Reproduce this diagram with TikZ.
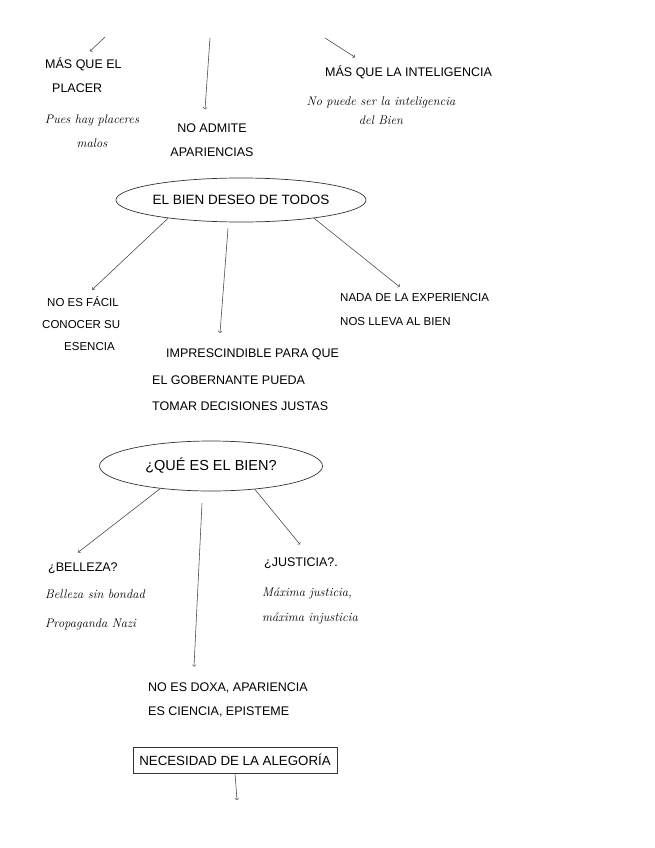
\documentclass[tikz,border=0pt]{standalone}
\usepackage{fontspec}
\setmainfont{Liberation Sans}
\usetikzlibrary{shapes.geometric,calc}
\begin{document}
\begin{tikzpicture}[x=1pt,y=-1pt,
	caps/.style={font=\fontsize{12.5}{24}\selectfont,align=left,inner sep=0pt,anchor=west},
	hand/.style={font=\fontfamily{lmr}\itshape\fontsize{12.5}{24}\selectfont,align=left,inner sep=0pt,anchor=west},
	idea/.style={draw=black!80,line width=0.7pt,ellipse,inner sep=0pt,font=\fontsize{13.5}{14}\selectfont},
	flecha/.style={->,draw=black!75,line width=0.55pt}]
	\useasboundingbox (0,0) rectangle (655,848);
	\def\gap{3pt};
	\coordinate (arribaA) at (105,37);
	\coordinate (arribaB) at (210,38);
	\coordinate (arribaC) at (325,38);
	\node[caps] (placer) at (45,75) {MÁS QUE EL\\\hspace{7pt}PLACER};
	\node[hand,align=center,anchor=center] (malos) at (92,131) {Pues hay placeres\\malos};
	\node[caps,align=center,anchor=center] (apariencias) at (212,140) {NO ADMITE\\APARIENCIAS};
	\node[caps] (inteligencia) at (325,72) {MÁS QUE LA INTELIGENCIA};
	\node[hand,align=center,anchor=center,font=\fontfamily{lmr}\itshape\fontsize{12.5}{19}\selectfont] (bienint) at (381,111) {No puede ser la inteligencia\\del Bien};
	\node[idea,minimum width=247pt,minimum height=44pt] (bien) at (241,200) {EL BIEN DESEO DE TODOS};
	\node[caps,font=\fontsize{11.5}{22}\selectfont] (facil) at (42,324) {\hspace{5pt}NO ES FÁCIL\\CONOCER SU\\\hspace{22pt}ESENCIA};
	\node[caps,font=\fontsize{11.5}{24}\selectfont] (experiencia) at (340,310) {NADA DE LA EXPERIENCIA\\NOS LLEVA AL BIEN};
	\node[caps,font=\fontsize{12.5}{26.5}\selectfont] (gobernante) at (152,380) {\hspace{14pt}IMPRESCINDIBLE PARA QUE\\EL GOBERNANTE PUEDA\\TOMAR DECISIONES JUSTAS};
	\node[idea,minimum width=223pt,minimum height=50pt,font=\fontsize{14.5}{15}\selectfont] (que) at (211,466) {¿QUÉ ES EL BIEN?};
	\node[caps] (belleza) at (48,568) {¿BELLEZA?};
	\node[hand,font=\fontfamily{lmr}\itshape\fontsize{12.5}{29}\selectfont] (bondad) at (45,610) {Belleza sin bondad\\Propaganda Nazi};
	\node[caps] (justicia) at (264,563) {¿JUSTICIA?.};
	\node[hand,font=\fontfamily{lmr}\itshape\fontsize{12.5}{25}\selectfont] (maxima) at (262,606) {Máxima justicia,\\máxima injusticia};
	\node[caps] (doxa) at (148,700) {NO ES DOXA, APARIENCIA\\ES CIENCIA, EPISTEME};
	\node[draw=black!80,line width=0.6pt,minimum width=204pt,minimum height=26pt,inner sep=0pt,font=\fontsize{13.3}{14}\selectfont] (alegoria) at (235,760) {NECESIDAD DE LA ALEGORÍA};
	\coordinate (fin) at (237,800);
	\draw[flecha] (arribaA) -- ($(placer.north west)+(45,-6)$);
	\draw[flecha] (arribaB) -- ($(apariencias.north)+(-7,-14)$);
	\draw[flecha] (arribaC) -- ($(inteligencia.north west)+(30,-8)$);
	\draw[flecha,shorten >=\gap] (bien.194) -- ($(facil.north west)+(48,-5)$);
	\draw[flecha] ($(bien.south)+(-13,6)$) -- ($(gobernante.north west)+(68,-16)$);
	\draw[flecha,shorten >=\gap] (bien.-14) -- ($(experiencia.north west)+(62,-5)$);
	\draw[flecha] (que.204) -- ($(belleza.north west)+(30,-10)$);
	\draw[flecha] ($(que.south)+(-9,12)$) -- ($(doxa.north west)+(46,-16)$);
	\draw[flecha] (que.-28) -- ($(justicia.north west)+(36,-13)$);
	\draw[flecha] (alegoria.south) -- (fin);
\end{tikzpicture}
\end{document}
